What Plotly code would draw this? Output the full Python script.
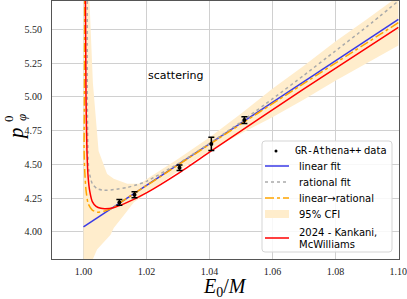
import plotly.graph_objects as go

# GR-Athena++ data
data_x = [1.0114, 1.0162, 1.0305, 1.0406, 1.0511]
data_y = [4.219, 4.276, 4.476, 4.652, 4.829]
data_err = [0.022, 0.022, 0.020, 0.049, 0.025]

# linear fit
lin_x = [1.000, 1.100]
lin_y = [4.037, 5.574]

# rational fit
rat_x = [1.0012, 1.0012, 1.0014, 1.0017, 1.0028, 1.0043, 1.0065, 1.0096, 1.0139, 1.017,
         1.020, 1.030, 1.040, 1.050, 1.060, 1.070, 1.080, 1.090, 1.100]
rat_y = [5.80, 5.00, 4.60, 4.456, 4.358, 4.321, 4.309, 4.314, 4.330, 4.35,
         4.375, 4.505, 4.655, 4.815, 4.985, 5.16, 5.34, 5.52, 5.71]

# linear -> rational
lr_x = [1.0004, 1.0003, 1.0002, 1.0004, 1.0008, 1.0015, 1.0028, 1.0043, 1.0065, 1.0096,
        1.0115, 1.020, 1.040, 1.070, 1.100]
lr_y = [5.80, 5.00, 4.60, 4.45, 4.31, 4.21, 4.162, 4.147, 4.154, 4.18,
        4.215, 4.343, 4.648, 5.10, 5.55]

# 2024 - Kankani, McWilliams
km_x = [1.0006, 1.0008, 1.0011, 1.0015, 1.0020, 1.0028, 1.0040, 1.0055, 1.0070, 1.0095,
        1.0130, 1.0200, 1.0305, 1.0406, 1.0700, 1.1000]
km_y = [5.80, 5.00, 4.60, 4.40, 4.30, 4.225, 4.19, 4.175, 4.172, 4.18,
        4.21, 4.29, 4.44, 4.60, 5.06, 5.515]

# 95% CFI band edges
up_x = [1.0000, 1.0012, 1.0019, 1.0030, 1.0048, 1.0075, 1.0096, 1.0139, 1.018, 1.020,
        1.030, 1.040, 1.050, 1.060, 1.070, 1.080, 1.090, 1.100]
up_y = [6.20, 6.20, 5.71, 5.10, 4.60, 4.43, 4.395, 4.358, 4.358, 4.39,
        4.54, 4.70, 4.876, 5.06, 5.23, 5.41, 5.575, 5.745]
lo_x = [1.100, 1.090, 1.080, 1.070, 1.060, 1.050, 1.040, 1.030, 1.020, 1.016,
        1.013, 1.0096, 1.0086, 1.0043, 1.0030, 1.0000]
lo_y = [5.38, 5.25, 5.12, 4.98, 4.85, 4.73, 4.60, 4.45, 4.29, 4.22,
        4.13, 4.03, 3.98, 3.87, 3.80, 3.50]

x_ticks = [1.00, 1.02, 1.04, 1.06, 1.08, 1.10]
y_ticks = [4.00, 4.25, 4.50, 4.75, 5.00, 5.25, 5.50]

legend_labels = ["GR-Athena++", "data", "linear fit", "rational fit", "linear→rational",
                 "95% CFI", "2024 - Kankani,", "McWilliams"]

C_BLUE = "#3a3ae6"
C_GREY = "#aaaaaa"
C_ORANGE = "#FFA500"
C_RED = "#ff0000"
C_BAND = "#FFEDCC"

W, H = 407, 299
ML, MR, MT, MB = 52, 8, 1, 40
PW, PH = W - ML - MR, H - MT - MB


def px(x):
    return (x - ML) / PW


def py(y):
    return (H - MB - y) / PH


fig = go.Figure()

fig.add_trace(go.Scatter(
    x=up_x + lo_x, y=up_y + lo_y, fill="toself", fillcolor=C_BAND,
    line=dict(width=0, color=C_BAND), mode="lines", hoverinfo="skip"))
fig.add_trace(go.Scatter(
    x=lin_x, y=lin_y, mode="lines", line=dict(color=C_BLUE, width=1.5)))
fig.add_trace(go.Scatter(
    x=rat_x, y=rat_y, mode="lines",
    line=dict(color=C_GREY, width=1.5, dash="dot", shape="spline", smoothing=0.6)))
fig.add_trace(go.Scatter(
    x=lr_x, y=lr_y, mode="lines",
    line=dict(color=C_ORANGE, width=1.5, dash="dashdot", shape="spline", smoothing=0.6)))
fig.add_trace(go.Scatter(
    x=km_x, y=km_y, mode="lines",
    line=dict(color=C_RED, width=1.5, shape="spline", smoothing=0.6)))
fig.add_trace(go.Scatter(
    x=data_x, y=data_y, mode="markers",
    marker=dict(color="black", size=4),
    error_y=dict(type="data", array=data_err, color="black", thickness=1.5, width=3)))

fig.add_annotation(x=1.0292, y=5.16, text="scattering", showarrow=False,
                   font=dict(family="DejaVu Sans", size=11, color="black"))

# ---- legend (drawn manually to match the compact layout) ----
shapes = []
L, R, T, B = 262, 392, 141, 252
r = 3
path = (f"M {px(L + r)} {py(T)} L {px(R - r)} {py(T)} Q {px(R)} {py(T)} {px(R)} {py(T + r)} "
        f"L {px(R)} {py(B - r)} Q {px(R)} {py(B)} {px(R - r)} {py(B)} "
        f"L {px(L + r)} {py(B)} Q {px(L)} {py(B)} {px(L)} {py(B - r)} "
        f"L {px(L)} {py(T + r)} Q {px(L)} {py(T)} {px(L + r)} {py(T)} Z")
shapes.append(dict(type="path", path=path, xref="paper", yref="paper",
                   fillcolor="rgba(255,255,255,0.85)", line=dict(color="#d5d5d5", width=1)))
shapes.append(dict(type="circle", xref="paper", yref="paper",
                   x0=px(274.5), x1=px(277.5), y0=py(152.5), y1=py(149.5),
                   fillcolor="black", line=dict(width=0)))
line_rows = [(166, C_BLUE, "solid"), (182, C_GREY, "dot"), (198, C_ORANGE, "dashdot"), (238, C_RED, "solid")]
for yy, col, dsh in line_rows:
    shapes.append(dict(type="line", xref="paper", yref="paper",
                       x0=px(265), x1=px(289), y0=py(yy), y1=py(yy),
                       line=dict(color=col, width=1.5, dash=dsh)))
shapes.append(dict(type="rect", xref="paper", yref="paper",
                   x0=px(265), x1=px(289), y0=py(218), y1=py(210),
                   fillcolor=C_BAND, line=dict(width=0)))
fig.update_layout(shapes=shapes)

tf = dict(family="DejaVu Sans", size=10, color="black")
fig.add_annotation(x=px(293), y=py(150), xref="paper", yref="paper", xanchor="left", yanchor="middle",
                   text=legend_labels[0], showarrow=False,
                   font=dict(family="DejaVu Sans Mono", size=10, color="black"))
fig.add_annotation(x=px(389), y=py(150), xref="paper", yref="paper", xanchor="right", yanchor="middle",
                   text=legend_labels[1], showarrow=False, font=tf)
for yy, txt in [(166, legend_labels[2]), (182, legend_labels[3]), (198, legend_labels[4]),
                (214, legend_labels[5]), (232, legend_labels[6]), (244, legend_labels[7])]:
    fig.add_annotation(x=px(297), y=py(yy), xref="paper", yref="paper", xanchor="left", yanchor="middle",
                       text=txt, showarrow=False, font=tf)

# ---- axis titles ----
fig.add_annotation(x=px(225), y=py(287), xref="paper", yref="paper", xanchor="center", yanchor="middle",
                   text="<i>E</i><sub>0</sub>/<i>M</i>", showarrow=False,
                   font=dict(family="Liberation Serif", size=20, color="black"))
fig.add_annotation(x=px(16), y=py(134), xref="paper", yref="paper", xanchor="center", yanchor="middle",
                   text="<i>p</i>", showarrow=False, textangle=-90,
                   font=dict(family="Liberation Serif", size=21, color="black"))
fig.add_annotation(x=px(8), y=py(119), xref="paper", yref="paper", xanchor="center", yanchor="middle",
                   text="0", showarrow=False, textangle=-90,
                   font=dict(family="Liberation Serif", size=13, color="black"))
fig.add_annotation(x=px(21), y=py(118), xref="paper", yref="paper", xanchor="center", yanchor="middle",
                   text="<i>φ</i>", showarrow=False, textangle=-90,
                   font=dict(family="Liberation Serif", size=13, color="black"))

axis_common = dict(
    showline=True, linecolor="#555555", linewidth=1, mirror=True,
    showgrid=True, gridcolor="#d0d0d0", gridwidth=1,
    ticks="outside", tickcolor="rgba(0,0,0,0)",
    tickfont=dict(family="Liberation Serif", size=10, color="#222222"),
    zeroline=False, automargin=False, ticklabeloverflow="allow",
)

fig.update_xaxes(range=[0.990, 1.1002], tickvals=x_ticks, tickformat=".2f", ticklen=3, **axis_common)
fig.update_yaxes(range=[3.80, 5.71], tickvals=y_ticks, tickformat=".2f", ticklen=7, **axis_common)

fig.update_layout(
    width=W, height=H,
    margin=dict(l=ML, r=MR, t=MT, b=MB),
    plot_bgcolor="white", paper_bgcolor="white",
    showlegend=False,
)

fig.write_html("out.html", config={"staticPlot": True, "displayModeBar": False},
               post_script="document.body.style.margin='0';document.body.style.overflow='hidden';")
